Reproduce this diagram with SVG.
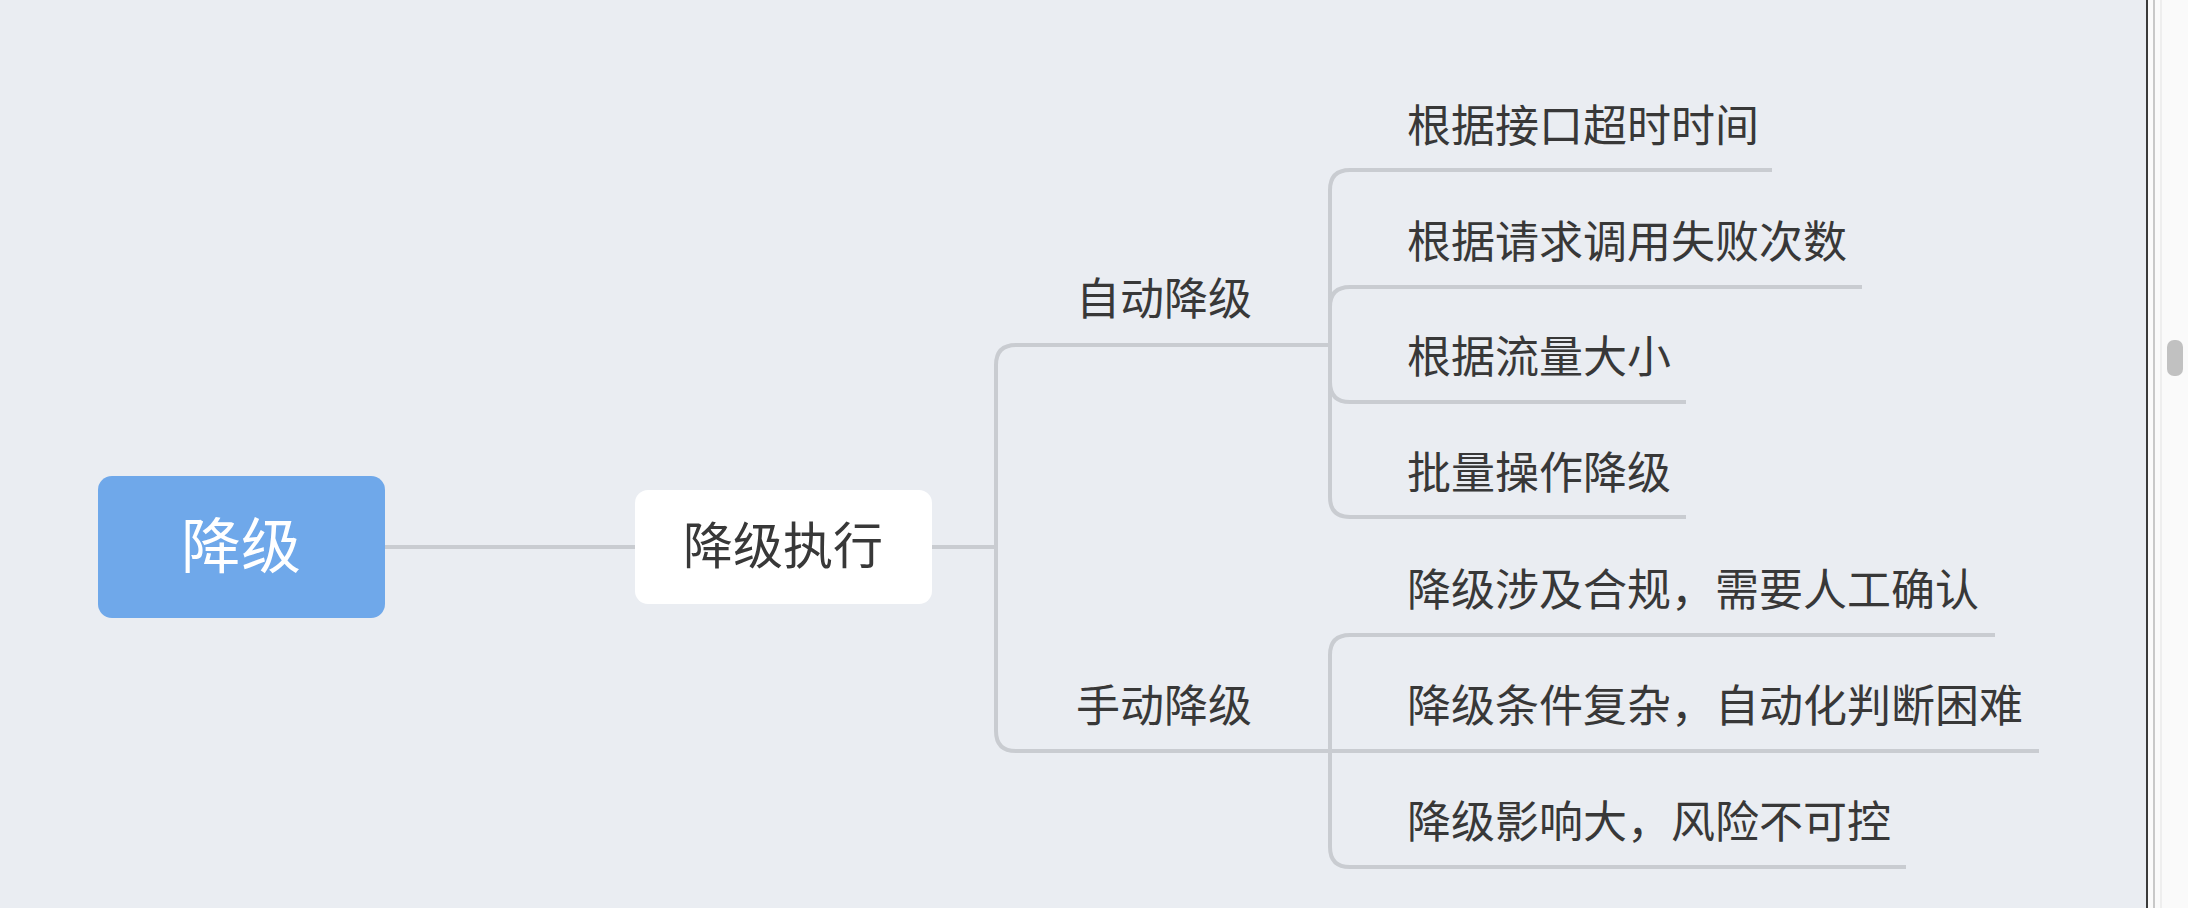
<svg xmlns="http://www.w3.org/2000/svg" width="2188" height="908" viewBox="0 0 2188 908">
<style>
.bg{fill:#eaedf2}
.conn{fill:none;stroke:#c9ccd1;stroke-width:4;stroke-linecap:butt}
.t{font-family:"Noto Sans CJK SC","Noto Sans",sans-serif;fill:#383838}
.leaf{font-size:44px}
.mid{font-size:44px;text-anchor:middle}
</style>
<rect class="bg" x="0" y="0" width="2188" height="908"/>
<g id="connectors">
<path class="conn" d="M385,547 H635"/>
<path class="conn" d="M932,547 H996"/>
<path class="conn" d="M996,547 V365 Q996,345 1016,345 H1330"/>
<path class="conn" d="M996,547 V731 Q996,751 1016,751 H1330"/>
<path class="conn" d="M1330,345 V190 Q1330,170 1350,170 H1772"/>
<path class="conn" d="M1330,345 V307 Q1330,287 1350,287 H1862"/>
<path class="conn" d="M1330,345 V382 Q1330,402 1350,402 H1686"/>
<path class="conn" d="M1330,345 V497 Q1330,517 1350,517 H1686"/>
<path class="conn" d="M1330,751 V655 Q1330,635 1350,635 H1995"/>
<path class="conn" d="M1330,751 H2039"/>
<path class="conn" d="M1330,751 V847 Q1330,867 1350,867 H1906"/>
</g>
<g id="root">
<rect x="98" y="476" width="287" height="142" rx="14" fill="#6fa8ea"/>
<text class="t" x="241" y="568" font-size="60" text-anchor="middle" style="fill:#ffffff">降级</text>
</g>
<g id="exec">
<rect x="635" y="490" width="297" height="114" rx="13" fill="#ffffff"/>
<text class="t" x="783" y="564" font-size="50" text-anchor="middle">降级执行</text>
</g>
<g id="auto">
<text class="t mid" x="1164" y="315">自动降级</text>
</g>
<g id="manual">
<text class="t mid" x="1164" y="722">手动降级</text>
</g>
<g id="leaf1"><text class="t leaf" x="1407" y="142">根据接口超时时间</text></g>
<g id="leaf2"><text class="t leaf" x="1407" y="258">根据请求调用失败次数</text></g>
<g id="leaf3"><text class="t leaf" x="1407" y="373">根据流量大小</text></g>
<g id="leaf4"><text class="t leaf" x="1407" y="489">批量操作降级</text></g>
<g id="leaf5"><text class="t leaf" x="1407" y="606">降级涉及合规，需要人工确认</text></g>
<g id="leaf6"><text class="t leaf" x="1407" y="722">降级条件复杂，自动化判断困难</text></g>
<g id="leaf7"><text class="t leaf" x="1407" y="838">降级影响大，风险不可控</text></g>
<rect x="2148" y="0" width="40" height="908" fill="#fafafa"/>
<line x1="2147" y1="0" x2="2147" y2="908" stroke="#3a3a3a" stroke-width="2"/>
<line x1="2154" y1="0" x2="2154" y2="908" stroke="#c8c8c8" stroke-width="2"/>
<line x1="2161" y1="0" x2="2161" y2="908" stroke="#e2e2e2" stroke-width="1"/>
<rect x="2167" y="340" width="16" height="36" rx="7" fill="#c1c1c1"/>
</svg>
